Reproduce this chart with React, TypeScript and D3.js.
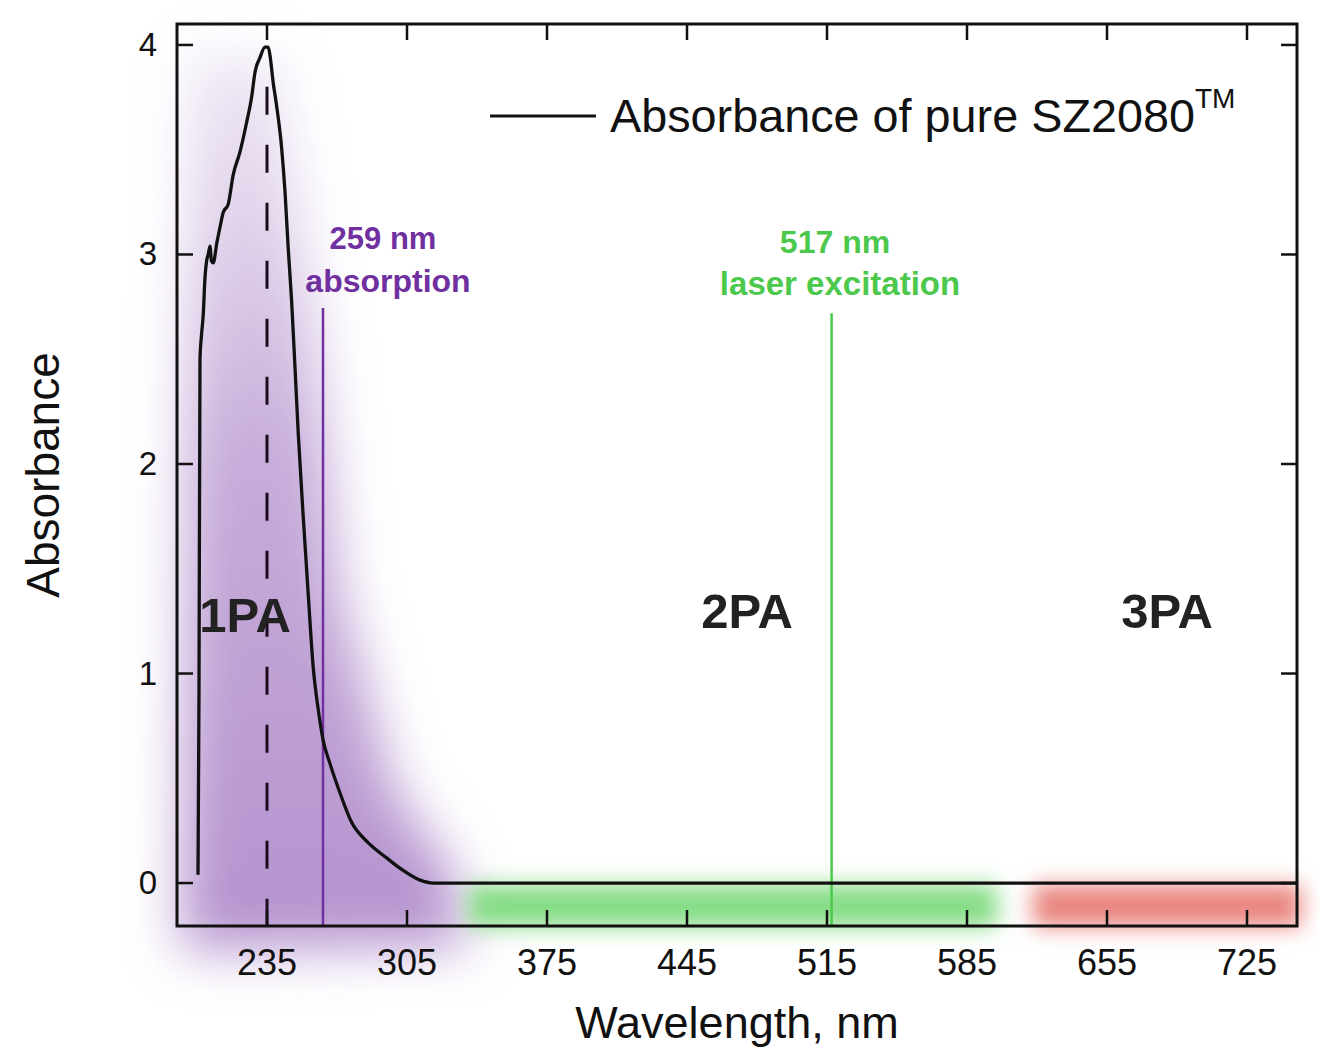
import React from "react";
import * as d3 from "d3";

const wavelength = [200.5, 201.0, 201.5, 202.3, 203.1, 204.0, 205.0, 205.6, 206.5, 207.2, 208.1, 210.0, 211.5, 213.1, 215.6, 218.1, 221.5, 224.8, 227.3, 229.0, 231.5, 234.0, 235.6, 236.5, 238.1, 239.8, 242.3, 244.0, 245.6, 247.3, 249.0, 250.6, 253.1, 255.6, 258.1, 260.6, 263.1, 266.5, 271.5, 277.3, 284.8, 294.8, 303.1, 311.5, 318.1, 330, 400, 500, 600, 700, 750];
const absorbance = [0.04, 0.9, 2.5, 2.62, 2.71, 2.89, 2.98, 3.0, 3.04, 2.97, 2.96, 3.06, 3.13, 3.2, 3.24, 3.38, 3.49, 3.63, 3.75, 3.87, 3.94, 3.99, 3.99, 3.95, 3.82, 3.71, 3.51, 3.3, 3.03, 2.78, 2.46, 2.15, 1.75, 1.38, 1.03, 0.83, 0.68, 0.57, 0.43, 0.29, 0.2, 0.12, 0.06, 0.014, 0.0, 0, 0, 0, 0, 0, 0];

const xTicks = [235, 305, 375, 445, 515, 585, 655, 725];
const yTicks = [0, 1, 2, 3, 4];

const peakWavelength = 235;
const absorptionLine = 263;
const laserLine = 517.3;

const regionNames = ["1PA", "2PA", "3PA"];
const regionLabelAt = [224, 475, 685];
const greenBand = [336, 600];
const redBand = [618, 752];

const FONT = "'Liberation Sans', Arial, Helvetica, sans-serif";

export default function App() {
  const W = 1319, H = 1049;
  const x = d3.scaleLinear().domain([190, 750]).range([177, 1297]);
  const y = d3.scaleLinear().domain([-0.205, 4.1]).range([926, 24]);
  const left = 177, right = 1297, top = 24, bottom = 926;
  const tickLen = 16;

  const pts: [number, number][] = wavelength.map((w, i) => [w, absorbance[i]]);
  const line = d3
    .line<[number, number]>()
    .x((d) => x(d[0]))
    .y((d) => y(d[1]))
    .curve(d3.curveMonotoneX);

  const purpleShape: [number, number][] = [
    [196, 3.95], [240, 3.95], [260, 2.6], [272, 1.4], [298, 0.45], [328, 0.05], [336, -0.3], [192, -0.32],
  ];
  const purplePath =
    "M" + purpleShape.map((p) => `${x(p[0])},${y(p[1])}`).join("L") + "Z";

  return (
    <svg width={W} height={H} style={{ position: "absolute", left: 0, top: 0, background: "#fff" }}>
      <defs>
        <filter id="blurP" x="-50%" y="-50%" width="200%" height="200%">
          <feGaussianBlur stdDeviation="26" />
        </filter>
        <filter id="blurB" x="-50%" y="-100%" width="200%" height="300%">
          <feGaussianBlur stdDeviation="11" />
        </filter>
        <linearGradient id="gradP" x1="0" y1="0" x2="0" y2="1">
          <stop offset="0" stopColor="#c8b0dc" stopOpacity="0.3" />
          <stop offset="0.45" stopColor="#b898d0" stopOpacity="0.8" />
          <stop offset="1" stopColor="#b08ccb" stopOpacity="0.95" />
        </linearGradient>
      </defs>
      <rect x={0} y={0} width={W} height={H} fill="#fff" />

      {/* Highlight regions */}
      <path d={purplePath} fill="url(#gradP)" filter="url(#blurP)" />
      <rect
        x={x(greenBand[0])}
        y={y(-0.01)}
        width={x(greenBand[1]) - x(greenBand[0])}
        height={y(-0.21) - y(-0.01)}
        fill="#84dc84"
        filter="url(#blurB)"
      />
      <rect
        x={x(redBand[0])}
        y={y(-0.01)}
        width={x(redBand[1]) - x(redBand[0])}
        height={y(-0.21) - y(-0.01)}
        fill="#e9847f"
        filter="url(#blurB)"
      />

      {/* Dashed peak marker */}
      <line
        x1={x(peakWavelength)}
        x2={x(peakWavelength)}
        y1={y(3.8)}
        y2={bottom}
        stroke="#1a0c1c"
        strokeWidth={3}
        strokeDasharray="28,30"
      />

      {/* Absorption line */}
      <line x1={x(absorptionLine)} x2={x(absorptionLine)} y1={y(2.745)} y2={bottom} stroke="#7030a0" strokeWidth={2.5} />
      {/* Laser line */}
      <line x1={x(laserLine)} x2={x(laserLine)} y1={y(2.72)} y2={bottom} stroke="#4cc94c" strokeWidth={2.5} />

      {/* Curve */}
      <path d={line(pts) || ""} fill="none" stroke="#111" strokeWidth={3.3} strokeLinejoin="round" />

      {/* Frame */}
      <rect x={left} y={top} width={right - left} height={bottom - top} fill="none" stroke="#111" strokeWidth={3} />
      {xTicks.map((t) => (
        <g key={"xt" + t}>
          <line x1={x(t)} x2={x(t)} y1={bottom} y2={bottom - tickLen} stroke="#111" strokeWidth={2.5} />
          <line x1={x(t)} x2={x(t)} y1={top} y2={top + tickLen} stroke="#111" strokeWidth={2.5} />
          <text x={x(t)} y={975} textAnchor="middle" fontFamily={FONT} fontSize={36} fill="#111">
            {t}
          </text>
        </g>
      ))}
      {yTicks.map((t) => (
        <g key={"yt" + t}>
          <line x1={left} x2={left + tickLen} y1={y(t)} y2={y(t)} stroke="#111" strokeWidth={2.5} />
          <line x1={right} x2={right - tickLen} y1={y(t)} y2={y(t)} stroke="#111" strokeWidth={2.5} />
          <text x={157} y={y(t) + 11} textAnchor="end" fontFamily={FONT} fontSize={33} fill="#111">
            {t}
          </text>
        </g>
      ))}

      {/* Axis titles */}
      <text
        transform={`translate(59, 475) rotate(-90)`}
        textAnchor="middle"
        fontFamily={FONT}
        fontSize={46}
        fill="#111"
      >
        Absorbance
      </text>
      <text x={737} y={1038} textAnchor="middle" fontFamily={FONT} fontSize={45} fill="#111">
        Wavelength, nm
      </text>

      {/* Legend */}
      <line x1={490} x2={596} y1={116} y2={116} stroke="#111" strokeWidth={3} />
      <text x={610} y={132} fontFamily={FONT} fontSize={46} fill="#111" textLength={585} lengthAdjust="spacingAndGlyphs">
        Absorbance of pure SZ2080
      </text>
      <text x={1195} y={108} fontFamily={FONT} fontSize={28} fill="#111">
        TM
      </text>

      {/* Annotations */}
      <text x={383} y={249} textAnchor="middle" fontFamily={FONT} fontWeight="bold" fontSize={31} fill="#7030a0">
        259 nm
      </text>
      <text x={388} y={292} textAnchor="middle" fontFamily={FONT} fontWeight="bold" fontSize={32} fill="#7030a0">
        absorption
      </text>
      <text x={835} y={253} textAnchor="middle" fontFamily={FONT} fontWeight="bold" fontSize={32} fill="#4cc94c">
        517 nm
      </text>
      <text x={840} y={295} textAnchor="middle" fontFamily={FONT} fontWeight="bold" fontSize={33} fill="#4cc94c">
        laser excitation
      </text>

      {/* Region labels */}
      {regionNames.map((n, i) => (
        <text
          key={n}
          x={x(regionLabelAt[i])}
          y={i === 0 ? 632 : 628}
          textAnchor="middle"
          fontFamily={FONT}
          fontWeight="bold"
          fontSize={49}
          fill="#222"
        >
          {n}
        </text>
      ))}
    </svg>
  );
}
